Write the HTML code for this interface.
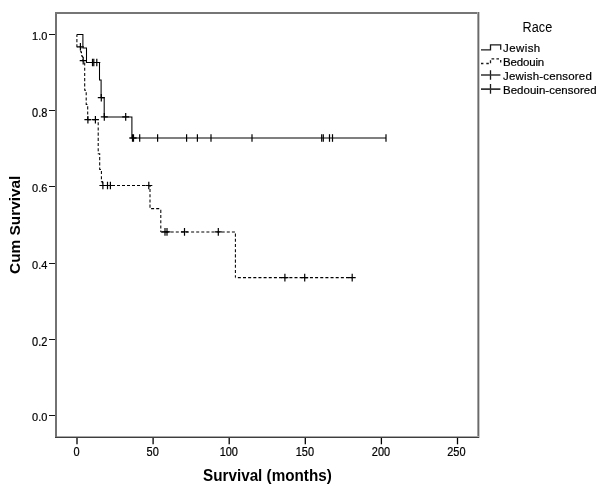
<!DOCTYPE html><html><head><meta charset="utf-8"><title>Survival</title><style>
html,body{margin:0;padding:0;background:#fff;width:600px;height:491px;overflow:hidden}
svg{display:block}
text{font-family:"Liberation Sans",sans-serif;fill:#000}
.r{stroke:#000;stroke-width:0.2px}
</style></head><body>
<svg width="600" height="491" viewBox="0 0 600 491">
<rect width="600" height="491" fill="#fff"/>
<g shape-rendering="crispEdges">
<rect x="55" y="12" width="2" height="426" fill="#727272"/>
<rect x="55" y="12" width="424" height="2" fill="#767676"/>
<rect x="477" y="12" width="1" height="426" fill="#a4a4a4"/>
<rect x="478" y="12" width="1" height="426" fill="#6a6a6a"/>
<rect x="479" y="12" width="1" height="426" fill="#cacaca"/>
<rect x="57" y="436" width="422" height="1" fill="#a8a8a8"/>
<rect x="55" y="437" width="424" height="1" fill="#3e3e3e"/>
<rect x="49" y="34" width="6" height="1" fill="#111"/>
<rect x="49" y="110" width="6" height="1" fill="#111"/>
<rect x="49" y="186" width="6" height="1" fill="#111"/>
<rect x="49" y="263" width="6" height="1" fill="#111"/>
<rect x="49" y="339" width="6" height="1" fill="#111"/>
<rect x="49" y="415" width="6" height="1" fill="#111"/>
</g>
<g stroke="#000" stroke-width="1.3">
<path d="M77.00 438V444.3"/>
<path d="M153.10 438V444.3"/>
<path d="M229.20 438V444.3"/>
<path d="M305.30 438V444.3"/>
<path d="M381.40 438V444.3"/>
<path d="M457.50 438V444.3"/>
</g>
<g class="r" font-size="11" text-anchor="end">
<text transform="translate(47.4 39.80) scale(1 1.0)">1.0</text>
<text transform="translate(47.4 116.70) scale(1 1.1)">0.8</text>
<text transform="translate(47.4 191.80) scale(1 1.0)">0.6</text>
<text transform="translate(47.4 268.80) scale(1 1.0)">0.4</text>
<text transform="translate(47.4 345.70) scale(1 1.1)">0.2</text>
<text transform="translate(47.4 420.80) scale(1 1.0)">0.0</text>
</g>
<g class="r" font-size="11" text-anchor="middle">
<text transform="translate(76.60 455.8) scale(1 1.1)">0</text>
<text transform="translate(152.70 455.8) scale(1 1.1)">50</text>
<text transform="translate(228.80 455.8) scale(1 1.1)">100</text>
<text transform="translate(304.90 455.8) scale(1 1.1)">150</text>
<text transform="translate(381.00 455.8) scale(1 1.1)">200</text>
<text transform="translate(456.40 455.8) scale(1 1.1)">250</text>
</g>
<text transform="translate(267.4 481.1) scale(1 1.05)" font-size="15.25" font-weight="bold" text-anchor="middle">Survival (months)</text>
<text transform="translate(19.6 224.8) rotate(-90)" font-size="15.4" font-weight="bold" text-anchor="middle">Cum Survival</text>
<g fill="none" stroke="#000" stroke-width="1.05">
<path d="M76.9 34.5 H82.9 V47.9 H86.5 V62.5 H99.5 V80 H101.1 V97.7 H104.2 V116.9 H131.9 V138 H386"/>
<path d="M76.9 34.4 V46.8 H80.8 V52 H81.5 V56 H82.5 V60.6 H84.7 V90.3 H86.2 V104.5 H87.7 V119.7" stroke-dasharray="3.1 2.1" stroke-dashoffset="0.5"/>
<path d="M87.7 119.7 H98.2" stroke-dasharray="3 2.1" stroke-dashoffset="0"/>
<path d="M98.2 119.7 V153.7 H99.7 V169.4 H101.4 V181.6 H102.4 V185.5" stroke-dasharray="3.1 2.1" stroke-dashoffset="2.7"/>
<path d="M102.4 185.5 H150" stroke-dasharray="3 2" stroke-dashoffset="0.4"/>
<path d="M150 185.5 V208.6" stroke-dasharray="3.1 2.1" stroke-dashoffset="1.7"/>
<path d="M150 208.6 H160.8" stroke-dasharray="3 2.1" stroke-dashoffset="4.0"/>
<path d="M160.8 208.6 V231.95" stroke-dasharray="3.1 2.1" stroke-dashoffset="4.0"/>
<path d="M160.8 231.95 H235.4" stroke-dasharray="3 2.1" stroke-dashoffset="0.3"/>
<path d="M235.4 231.95 V277.6" stroke-dasharray="3.1 2.1" stroke-dashoffset="3.6"/>
<path d="M235.4 277.6 H352.2" stroke-dasharray="3 2.15" stroke-dashoffset="2.7"/>
</g>
<g fill="none" stroke="#000" stroke-width="1.2">
<path d="M89.0 62.5H96.0M92.5 58.7V66.3"/>
<path d="M90.3 62.5H97.3M93.8 58.7V66.3"/>
<path d="M93.3 62.5H100.3M96.8 58.7V66.3"/>
<path d="M97.8 97.7H104.8M101.3 93.9V101.5"/>
<path d="M100.8 116.9H107.8M104.3 113.1V120.7"/>
<path d="M122.2 116.9H129.2M125.7 113.1V120.7"/>
<path d="M129.0 138H136.0M132.5 134.2V141.8"/>
<path d="M130.0 138H137.0M133.5 134.2V141.8"/>
<path d="M139.7 134.2V141.8"/>
<path d="M157.6 134.2V141.8"/>
<path d="M186.6 134.2V141.8"/>
<path d="M197.4 134.2V141.8"/>
<path d="M211 134.2V141.8"/>
<path d="M252 134.2V141.8"/>
<path d="M321.7 134.2V141.8"/>
<path d="M323.3 134.2V141.8"/>
<path d="M329.5 134.2V141.8"/>
<path d="M332.5 134.2V141.8"/>
<path d="M386 134.2V141.8"/>
<path d="M76.9 46.8H83.9M80.4 43.0V50.6"/>
<path d="M79.7 60.6H86.7M83.2 56.8V64.4"/>
<path d="M84.4 119.7H91.4M87.9 115.9V123.5"/>
<path d="M91.9 119.7H98.9M95.4 115.9V123.5"/>
<path d="M99.4 185.5H106.4M102.9 181.7V189.3"/>
<path d="M104.0 185.5H111.0M107.5 181.7V189.3"/>
<path d="M106.9 185.5H113.9M110.4 181.7V189.3"/>
<path d="M145.3 185.5H152.3M148.8 181.7V189.3"/>
<path d="M161.5 231.95H168.5M165 228.1V235.8"/>
<path d="M163.5 231.95H170.5M167 228.1V235.8"/>
<path d="M181.0 231.95H188.0M184.5 228.1V235.8"/>
<path d="M214.8 231.95H221.8M218.3 228.1V235.8"/>
<path d="M281.4 277.6H288.4M284.9 273.8V281.4"/>
<path d="M301.2 277.6H308.2M304.7 273.8V281.4"/>
<path d="M348.7 277.6H355.7M352.2 273.8V281.4"/>
</g>
<text x="537.4" y="31.6" font-size="14" text-anchor="middle" textLength="29.6" lengthAdjust="spacingAndGlyphs">Race</text>
<g fill="none" stroke="#1a1a1a" stroke-width="1.3">
<path d="M481 49.8H490.5V44.8H500.7V49.8"/>
<path d="M481 63.5H483.4M486.3 63.5H488.8M490.5 63.3V60.2M491.5 58.8H494.2M496.4 58.8H499M500.7 60.1V62.6"/>
<path d="M490.5 70.2V79.8M490.5 84V93.8"/>
</g>
<g fill="none" stroke="#333" stroke-width="1.6">
<path d="M481 75H500.4M481 89.1H500.4"/>
</g>
<g class="r" font-size="11.5">
<text transform="translate(503 52.3) scale(1 1.03)" textLength="37.2" lengthAdjust="spacing">Jewish</text>
<text transform="translate(503 65.8) scale(1 1.03)" textLength="41.2" lengthAdjust="spacing">Bedouin</text>
<text transform="translate(503 80.2) scale(1 1.03)" textLength="88.8" lengthAdjust="spacing">Jewish-censored</text>
<text transform="translate(503 93.8) scale(1 1.03)" textLength="93.6" lengthAdjust="spacing">Bedouin-censored</text>
</g>
</svg></body></html>
